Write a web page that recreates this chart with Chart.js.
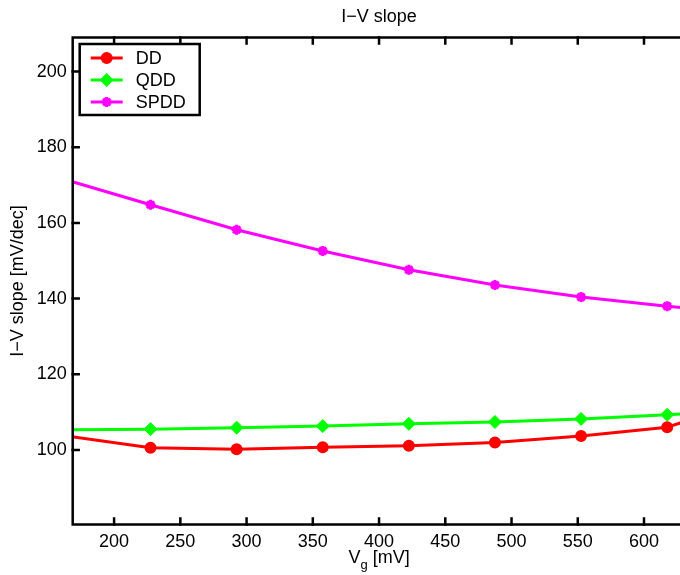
<!DOCTYPE html>
<html>
<head>
<meta charset="utf-8">
<script src="https://cdn.jsdelivr.net/npm/chart.js@4/dist/chart.umd.min.js"></script>
<style>
html, body { margin: 0; padding: 0; background: #fff; overflow: hidden; width: 680px; height: 575px; }
canvas { display: block; }
</style>
</head>
<body>
<canvas id="c" width="700" height="575"></canvas>
<script>
// ---- data ----
const vgValues = [162.5, 227.5, 292.5, 357.5, 422.5, 487.5, 552.5, 617.5, 682.5];
const ddValues = [103.8, 100.6, 100.2, 100.7, 101.1, 102.0, 103.7, 106.0, 113.5];
const qddValues = [105.3, 105.5, 105.9, 106.3, 106.9, 107.4, 108.2, 109.3, 110.5];
const spddValues = [171.5, 164.8, 158.2, 152.6, 147.6, 143.6, 140.4, 138.0, 135.8];
const seriesNames = ['DD', 'QDD', 'SPDD'];
const xTickValues = [200, 250, 300, 350, 400, 450, 500, 550, 600];
const yTickValues = [100, 120, 140, 160, 180, 200];
const chartTitle = 'I\u2212V slope';
const yTitle = 'I\u2212V slope [mV/dec]';
const xTitleMain = 'V';
const xTitleSub = 'g';
const xTitleRest = ' [mV]';

const FONT = '"Liberation Sans", Arial, Helvetica, sans-serif';
Chart.defaults.font.family = FONT;
Chart.defaults.font.size = 18;
Chart.defaults.color = '#000';

const toPts = arr => vgValues.map((x, i) => ({ x: x, y: arr[i] }));

const frameTicks = {
  id: 'frameTicks',
  afterDraw(chart) {
    const { ctx, chartArea: a, scales } = chart;
    const tl = 6;
    ctx.save();
    ctx.strokeStyle = '#000';
    ctx.lineWidth = 2.5;
    ctx.lineCap = 'square';
    ctx.beginPath();
    xTickValues.forEach(v => {
      const px = scales.x.getPixelForValue(v);
      ctx.moveTo(px, a.bottom); ctx.lineTo(px, a.bottom - tl);
      ctx.moveTo(px, a.top); ctx.lineTo(px, a.top + tl);
    });
    yTickValues.forEach(v => {
      const py = scales.y.getPixelForValue(v);
      ctx.moveTo(a.left, py); ctx.lineTo(a.left + tl, py);
    });
    ctx.stroke();
    ctx.lineCap = 'butt';
    ctx.lineJoin = 'miter';
    ctx.strokeRect(a.left, a.top, a.right - a.left, a.bottom - a.top);

    // x-axis title with subscript
    const cx = (a.left + a.right) / 2;
    const base = a.bottom + 38;
    ctx.fillStyle = '#000';
    ctx.textBaseline = 'alphabetic';
    ctx.textAlign = 'left';
    ctx.font = '18px ' + FONT;
    const wMain = ctx.measureText(xTitleMain).width;
    const wRest = ctx.measureText(xTitleRest).width;
    ctx.font = '13px ' + FONT;
    const wSub = ctx.measureText(xTitleSub).width;
    let sx = cx - (wMain + wSub + wRest) / 2;
    ctx.font = '18px ' + FONT;
    ctx.fillText(xTitleMain, sx, base);
    ctx.font = '13px ' + FONT;
    ctx.fillText(xTitleSub, sx + wMain, base + 6);
    ctx.font = '18px ' + FONT;
    ctx.fillText(xTitleRest, sx + wMain + wSub, base);

    // legend box
    const lx = a.left + 7, ly = a.top + 6.5, lw = 120, lh = 71;
    ctx.fillStyle = '#fff';
    ctx.fillRect(lx, ly, lw, lh);
    ctx.lineWidth = 2.5;
    ctx.strokeStyle = '#000';
    ctx.strokeRect(lx, ly, lw, lh);
    chart.data.datasets.forEach((ds, i) => {
      const ry = ly + 14 + i * 22;
      ctx.strokeStyle = ds.borderColor;
      ctx.lineWidth = 3;
      ctx.beginPath();
      ctx.moveTo(lx + 11, ry); ctx.lineTo(lx + 43, ry);
      ctx.stroke();
      ctx.fillStyle = ds.borderColor;
      ctx.strokeStyle = ds.borderColor;
      ctx.lineWidth = ds.pointBorderWidth;
      Chart.helpers.drawPoint(ctx, {
        pointStyle: ds.pointStyle, radius: ds.pointRadius, borderWidth: ds.pointBorderWidth, rotation: 0
      }, lx + 27, ry);
      ctx.fillStyle = '#000';
      ctx.font = '18px ' + FONT;
      ctx.textBaseline = 'middle';
      ctx.fillText(ds.label, lx + 56, ry + 1);
    });
    ctx.restore();
  }
};

new Chart(document.getElementById('c'), {
  type: 'line',
  data: {
    datasets: [
      { label: seriesNames[0], data: toPts(ddValues), borderColor: '#ff0000', backgroundColor: '#ff0000',
        pointStyle: 'circle', pointRadius: 5, pointBorderWidth: 2, borderWidth: 3 },
      { label: seriesNames[1], data: toPts(qddValues), borderColor: '#00ff00', backgroundColor: '#00ff00',
        pointStyle: 'rectRot', pointRadius: 6.5, pointBorderWidth: 1, borderWidth: 3 },
      { label: seriesNames[2], data: toPts(spddValues), borderColor: '#ff00ff', backgroundColor: '#ff00ff',
        pointStyle: 'star', pointRadius: 5, pointBorderWidth: 3, borderWidth: 3 }
    ]
  },
  options: {
    responsive: false,
    animation: false,
    clip: 0,
    layout: { padding: { left: 0, right: 14.6, top: 0, bottom: 0 } },
    elements: { line: { tension: 0 } },
    plugins: {
      legend: { display: false },
      tooltip: { enabled: false },
      title: {
        display: true, text: chartTitle, color: '#000', fullSize: false,
        font: { size: 18, weight: 'normal', family: FONT },
        padding: { top: 6, bottom: 9.9 }
      }
    },
    scales: {
      x: {
        type: 'linear', min: 168.75, max: 631.25,
        grid: { display: false, drawTicks: false },
        border: { display: false },
        ticks: { padding: 7, color: '#000', font: { size: 18 }, maxRotation: 0, autoSkip: false },
        afterBuildTicks(s) { s.ticks = xTickValues.map(v => ({ value: v })); },
        afterFit(s) { s.height = 50.5; }
      },
      y: {
        type: 'linear', min: 80.3, max: 209.0,
        grid: { display: false, drawTicks: false },
        border: { display: false },
        ticks: { padding: 6, color: '#000', font: { size: 18 }, autoSkip: false },
        title: { display: true, text: yTitle, color: '#000', font: { size: 18 }, padding: { top: 7.2, bottom: 0 } },
        afterBuildTicks(s) { s.ticks = yTickValues.map(v => ({ value: v })); },
        afterFit(s) { s.width = 72.7; }
      }
    }
  },
  plugins: [frameTicks]
});
</script>
</body>
</html>
